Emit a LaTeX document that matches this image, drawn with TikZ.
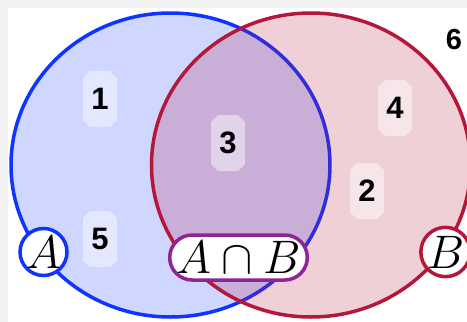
\documentclass[tikz,border=0pt]{standalone}
\usepackage{fontspec}
\setsansfont{Liberation Sans}
\usetikzlibrary{shapes.misc}
\definecolor{setA}{RGB}{16,52,255}
\definecolor{setB}{RGB}{181,23,58}
\definecolor{capc}{RGB}{142,36,150}
\definecolor{pagegray}{RGB}{242,242,242}
\newcommand{\biglabel}[1]{\scalebox{1.89}{\Huge$#1$}}
\tikzset{
  numbox/.style={chamfered rectangle, chamfered rectangle xsep=3.5pt, chamfered rectangle ysep=3.5pt,
    fill=white, fill opacity=0.45, text opacity=1, minimum width=34pt, minimum height=56pt,
    inner sep=0pt, font=\sffamily\bfseries\fontsize{31}{36}\selectfont},
  numplain/.style={inner sep=0pt, font=\sffamily\bfseries\fontsize{29}{34}\selectfont},
  setlabel/.style={circle, fill=white, line width=3.5pt, inner sep=0pt, minimum size=46pt},
  caplabel/.style={rounded rectangle, fill=white, draw=capc, line width=3.5pt, inner sep=0pt,
    minimum width=137pt, minimum height=45pt}
}
\begin{document}
\begin{tikzpicture}[x=1pt,y=-1pt]
\useasboundingbox (0,0) rectangle (467,322);
\clip (0,0) rectangle (467,322);
\fill[pagegray] (0,0) rectangle (467,322);
\fill[white] (8,8) rectangle (467,322);
% set A
\draw[setA, line width=3.5pt, fill=setA, fill opacity=0.2] (170.5,165) ellipse [x radius=159.5pt, y radius=152pt];
% set B
\draw[setB, line width=3.5pt, fill=setB, fill opacity=0.2] (311,165) ellipse [x radius=159.5pt, y radius=152pt];
% region numbers
\node[numbox] (n1) at (100,99) {1};
\node[numbox] (n5) at (100,239) {5};
\node[numbox] (n3) at (228,143) {3};
\node[numbox] (n4) at (395,108) {4};
\node[numbox] (n2) at (367,191) {2};
\node[numplain] (n6) at (454,40) {6};
% labels
\node[setlabel, draw=setA] (la) at (43.5,252) {\biglabel{A}};
\node[setlabel, draw=setB] (lb) at (445.5,252) {\biglabel{B}};
\node[caplabel] (lab) at (238.5,257.5) {\biglabel{A\cap B}};
\end{tikzpicture}
\end{document}
